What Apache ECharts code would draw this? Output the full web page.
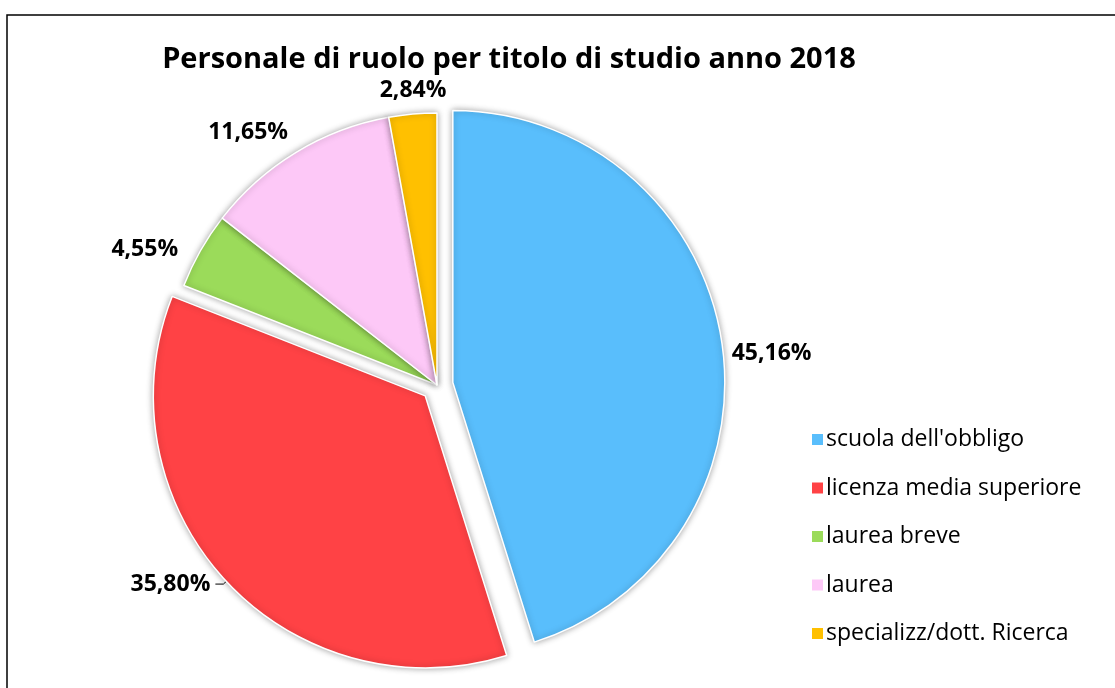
<!DOCTYPE html>
<html>
<head>
<meta charset="utf-8">
<script src="https://cdn.jsdelivr.net/npm/echarts@6/dist/echarts.min.js"></script>
<style>
  html, body { margin: 0; padding: 0; background: #ffffff; }
  #main { width: 1115px; height: 688px; }
</style>
</head>
<body>
<div id="main"></div>
<script>
  // dati
  var categories = ['scuola dell\'obbligo', 'licenza media superiore', 'laurea breve', 'laurea', 'specializz/dott. Ricerca'];
  var percentuali = [45.16, 35.80, 4.55, 11.65, 2.84];
  var colori = ['#59befc', '#ff4245', '#9bdb5a', '#fdc8f7', '#ffc000'];
  var esplosi = [true, true, false, false, false];

  // piccoli spostamenti delle etichette rispetto alla posizione automatica
  var labelDx = [-7, 0, -6, 7, 47];
  var labelDy = [13, 0, 1, -16, -20];

  var font = '"Open Sans", sans-serif';

  var chart = echarts.init(document.getElementById('main'));

  var seriesData = categories.map(function (c, i) {
    return {
      name: c,
      value: percentuali[i],
      selected: esplosi[i],
      itemStyle: { color: colori[i] },
      labelLine: { show: i === 1 }
    };
  });

  chart.setOption({
    backgroundColor: '#ffffff',
    title: {
      text: 'Personale di ruolo per titolo di studio anno 2018',
      left: 504,
      textAlign: 'center',
      top: 40,
      textStyle: {
        fontFamily: font,
        fontWeight: 'bold',
        fontSize: 29,
        color: '#000'
      }
    },
    legend: {
      orient: 'vertical',
      left: 805,
      top: 423,
      itemWidth: 13,
      itemHeight: 13,
      itemGap: 25.5,
      icon: 'rect',
      selectedMode: false,
      textStyle: {
        fontFamily: font,
        fontSize: 23,
        color: '#000',
        padding: [0, 0, 0, -3]
      },
      data: categories
    },
    graphic: [{
      type: 'rect',
      shape: { x: 7, y: 15, width: 1200, height: 800 },
      style: { fill: 'none', stroke: '#000', lineWidth: 1.5 },
      silent: true
    }],
    series: [{
      type: 'pie',
      center: [437, 385],
      radius: [0, 272],
      startAngle: 90,
      clockwise: true,
      selectedMode: 'multiple',
      selectedOffset: 16,
      avoidLabelOverlap: false,
      animation: false,
      itemStyle: {
        borderColor: '#ffffff',
        borderWidth: 1.5,
        shadowBlur: 6,
        shadowColor: 'rgba(0,0,0,0.35)'
      },
      label: {
        show: true,
        position: 'outside',
        formatter: function (p) { return p.value.toFixed(2).replace('.', ',') + '%'; },
        fontFamily: font,
        fontWeight: 'bold',
        fontSize: 23,
        color: '#000'
      },
      labelLine: {
        length: 4,
        length2: 8,
        lineStyle: { color: '#000', width: 1 }
      },
      labelLayout: function (p) {
        return { dx: labelDx[p.dataIndex], dy: labelDy[p.dataIndex] };
      },
      emphasis: { disabled: true },
      data: seriesData
    }]
  });
</script>
</body>
</html>
